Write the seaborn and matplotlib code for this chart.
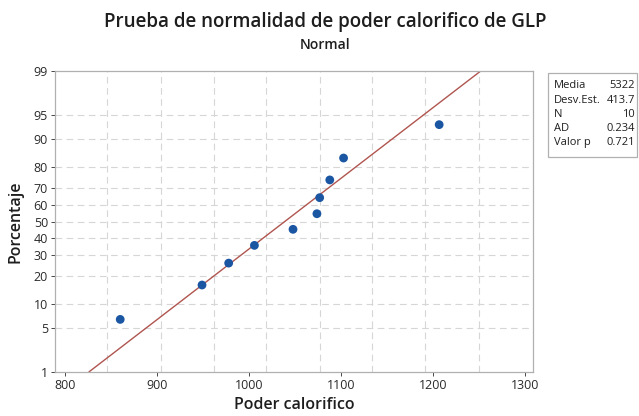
import matplotlib
matplotlib.use("Agg")
import matplotlib.pyplot as plt
import seaborn as sns
import pandas as pd
from statistics import NormalDist

# ---- data ----
poder_calorifico = [860, 949, 978, 1006, 1048, 1074, 1077, 1088, 1103, 1207]
porcentaje = [6.5, 16.3, 26.0, 35.6, 45.2, 54.8, 64.4, 74.0, 83.7, 93.3]
fit_x = [826, 1252]
fit_pct = [1, 99]
y_ticks = [1, 5, 10, 20, 30, 40, 50, 60, 70, 80, 90, 95, 99]
x_ticks = [800, 900, 1000, 1100, 1200, 1300]
stat_labels = ["Media", "Desv.Est.", "N", "AD", "Valor p"]
stat_values = ["5322", "413.7", "10", "0.234", "0.721"]

nd = NormalDist()
z = lambda p: nd.inv_cdf(p / 100.0)

sns.set_theme(style="white")
plt.rcParams['font.family'] = ['Open Sans', 'DejaVu Sans']

fig = plt.figure(figsize=(6.39, 4.16), dpi=100)
ax = fig.add_axes([0.086, 0.106, 0.748, 0.723])

pts = pd.DataFrame({"x": poder_calorifico, "z": [z(p) for p in porcentaje]})
fit = pd.DataFrame({"x": fit_x, "z": [z(p) for p in fit_pct]})

# gridlines (Minitab style dashed)
for g in [846, 904, 962, 1019, 1077, 1134, 1192, 1250]:
    ax.axvline(g, color="#d6d6d6", lw=0.8, ls=(0, (6, 4)), zorder=0)
for t in y_ticks[1:-1]:
    ax.axhline(z(t), color="#d6d6d6", lw=0.8, ls=(0, (6, 4)), zorder=0)

sns.lineplot(data=fit, x="x", y="z", ax=ax, color="#b0554f", lw=1.0, zorder=2)
sns.scatterplot(data=pts, x="x", y="z", ax=ax, color="#1b56a3", s=40,
                edgecolor="none", zorder=3)

ax.set_xlim(789, 1309)
ax.set_ylim(z(1), z(99))
ax.set_xticks(x_ticks)
ax.set_xticklabels([str(v) for v in x_ticks])
ax.set_yticks([z(t) for t in y_ticks])
ax.set_yticklabels([str(t) for t in y_ticks])
ax.tick_params(axis="both", labelsize=9, colors="#2a2a2a", length=3,
               width=0.6, direction="out", pad=2, left=True, bottom=True)
for s in ax.spines.values():
    s.set_color("#b0b0b0")
    s.set_linewidth(0.9)

ax.set_xlabel("Poder calorifico", fontsize=11.5, fontweight="semibold",
              color="#1e1e1e", labelpad=4)
ax.set_ylabel("Porcentaje", fontsize=11.5, fontweight="semibold",
              color="#1e1e1e", labelpad=7)

fig.text(0.509, 0.948, "Prueba de normalidad de poder calorifico de GLP",
         ha="center", va="center", fontsize=13.5, fontweight="semibold",
         color="#1e1e1e")
fig.text(0.509, 0.893, "Normal", ha="center", va="center", fontsize=10,
         fontweight="semibold", color="#1e1e1e")

# stats box
W, H = 639, 416
box = plt.Rectangle((548 / W, 1 - 157 / H), (637 - 548) / W, (157 - 73) / H,
                    transform=fig.transFigure, facecolor="white",
                    edgecolor="#b0b0b0", lw=0.9)
fig.add_artist(box)
for i, (lab, val) in enumerate(zip(stat_labels, stat_values)):
    yy = 1 - (86 + i * 14.2) / H
    fig.text(554 / W, yy, lab, ha="left", va="center", fontsize=8,
             color="#1e1e1e")
    fig.text(635 / W, yy, val, ha="right", va="center", fontsize=8,
             color="#1e1e1e")

fig.savefig("out.png", dpi=100)
